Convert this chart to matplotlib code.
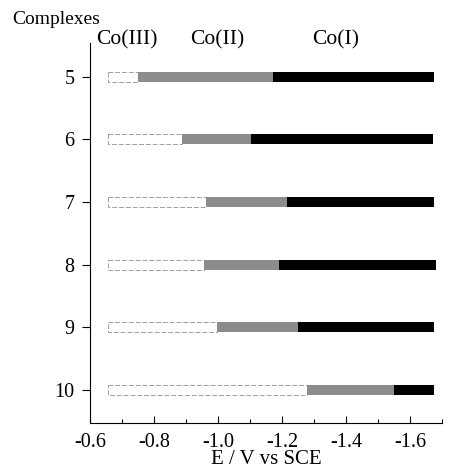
import numpy as np
import matplotlib.pyplot as plt

# complexes and redox boundaries (V vs SCE)
complexes = ["5", "6", "7", "8", "9", "10"]
e_start = [-0.656, -0.656, -0.656, -0.656, -0.656, -0.656]
e_III_II = [-0.75, -0.888, -0.963, -0.956, -0.996, -1.278]
e_II_I = [-1.172, -1.103, -1.215, -1.19, -1.25, -1.55]
e_end = [-1.675, -1.672, -1.675, -1.68, -1.675, -1.675]

region_labels = ["Co(III)", "Co(II)", "Co(I)"]
region_x = [-0.716, -0.997, -1.369]

plt.rcParams['font.family'] = ['Liberation Serif', 'DejaVu Serif']

fig = plt.figure(figsize=(4.5, 4.71), dpi=100)
ax = fig.add_axes([0.2, 0.102, 0.782, 0.807])

y = np.arange(len(complexes))
h = 0.16
start = np.array(e_start)
b1 = np.array(e_III_II)
b2 = np.array(e_II_I)
end = np.array(e_end)

ax.barh(y, b1 - start, left=start, height=h, color="white",
        edgecolor="#a0a0a0", linewidth=0.7, linestyle=(0, (5, 2)))
ax.barh(y, b2 - b1, left=b1, height=h, color="#8c8c8c", edgecolor="none")
ax.barh(y, end - b2, left=b2, height=h, color="black", edgecolor="none")

ax.set_xlim(-0.6, -1.7)
ax.set_ylim(len(complexes) - 1 + 0.53, -0.54)
ax.set_xticks([-0.6, -0.8, -1.0, -1.2, -1.4, -1.6])
ax.set_xticklabels(["-0.6", "-0.8", "-1.0", "-1.2", "-1.4", "-1.6"])
ax.set_xticks(np.arange(-0.7, -1.75, -0.2), minor=True)
ax.set_yticks(y)
ax.set_yticklabels(complexes)

ax.tick_params(axis="x", direction="in", length=5, width=0.8, labelsize=14.5, pad=7)
ax.tick_params(axis="x", which="minor", direction="in", length=3, width=0.8)
ax.tick_params(axis="y", direction="out", length=6, width=0.8, labelsize=14.5, pad=5)
ax.spines["top"].set_visible(False)
ax.spines["right"].set_visible(False)
for s in ["left", "bottom"]:
    ax.spines[s].set_linewidth(0.8)

ax.set_xlabel("E / V vs SCE", fontsize=15, labelpad=-1)

for lab, xx in zip(region_labels, region_x):
    ax.text(xx, 1.008, lab, ha="center", va="center", fontsize=15.5,
            transform=ax.get_xaxis_transform())

fig.text(0.027, 0.958, "Complexes", ha="left", va="center", fontsize=14)

fig.savefig("out.png", dpi=100)
